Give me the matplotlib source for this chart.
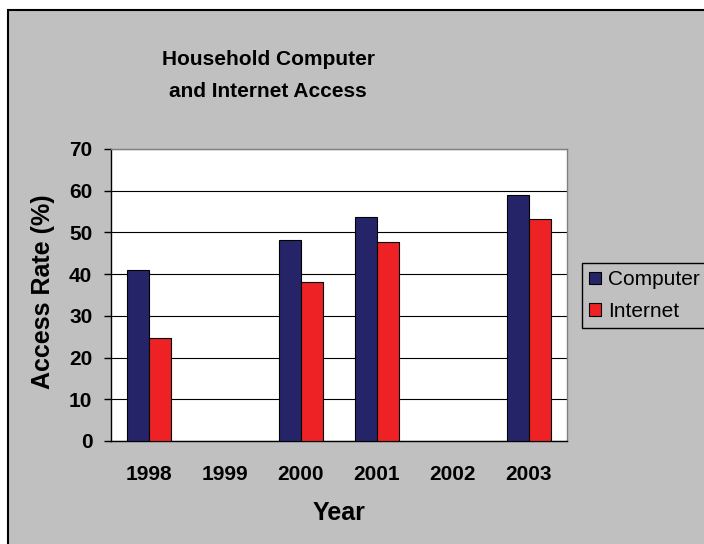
import numpy as np
import matplotlib
matplotlib.use("Agg")
import matplotlib.pyplot as plt
from matplotlib.patches import Rectangle, Patch

years = ["1998", "1999", "2000", "2001", "2002", "2003"]
computer = [41.1, np.nan, 48.2, 53.8, np.nan, 59.0]
internet = [24.6, np.nan, 38.2, 47.8, np.nan, 53.2]
series_names = ["Computer", "Internet"]
yticks = [0, 10, 20, 30, 40, 50, 60, 70]

W, H = 704, 544
plt.rcParams["font.family"] = ["Liberation Sans", "DejaVu Sans"]

fig = plt.figure(figsize=(W / 100, H / 100), dpi=100, facecolor="white")

def fx(px):
    return px / W

def fy(py):
    return 1 - py / H

# grey chart area with black outline, kept behind the axes
fig.patches.append(Rectangle((fx(8), fy(H + 10)), fx(W + 10), fy(10) - fy(H + 10),
                             transform=fig.transFigure, facecolor="#C0C0C0",
                             edgecolor="black", linewidth=1.5, zorder=-10))

ax = fig.add_axes([fx(111), fy(441), fx(567) - fx(111), fy(149) - fy(441)])
ax.set_zorder(1)
ax.set_facecolor("white")

x = np.arange(len(years))
bw = 0.2857
ax.bar(x - bw / 2, computer, bw, color="#262469", edgecolor="black", linewidth=0.8,
       zorder=3, label=series_names[0])
ax.bar(x + bw / 2, internet, bw, color="#EE2124", edgecolor="black", linewidth=0.8,
       zorder=3, label=series_names[1])

ax.set_xlim(-0.5, len(years) - 0.5)
ax.set_ylim(0, 70)
ax.set_yticks(yticks)
ax.set_xticks(x)
ax.set_xticklabels(years)
ax.yaxis.grid(True, color="black", linewidth=0.8, zorder=1)
ax.set_axisbelow(True)

for s in ["top", "right"]:
    ax.spines[s].set_color("#808080")
    ax.spines[s].set_linewidth(1.0)
for s in ["left", "bottom"]:
    ax.spines[s].set_color("black")
    ax.spines[s].set_linewidth(1.0)

ax.tick_params(axis="y", length=5, width=1, pad=8.5, labelsize=15)
ax.tick_params(axis="x", length=0, pad=17, labelsize=15)
for lab in ax.get_xticklabels() + ax.get_yticklabels():
    lab.set_fontweight("bold")

ax.set_xlabel("Year", fontsize=18, fontweight="bold")
ax.xaxis.label.set_va("center")
ax.xaxis.set_label_coords(0.5, (441 - 513) / 292)
ax.set_ylabel("Access Rate (%)", fontsize=18, fontweight="bold")
ax.yaxis.label.set_va("center")
ax.yaxis.set_label_coords((43 - 111) / 456, (441 - 292) / 292)

fig.text(fx(268), fy(65), "Household Computer", ha="center", va="baseline",
         fontsize=15, fontweight="bold")
fig.text(fx(268), fy(97), "and Internet Access", ha="center", va="baseline",
         fontsize=15, fontweight="bold")

# legend box runs past the right edge of the chart area
handles = [Patch(facecolor="#262469", edgecolor="black", linewidth=0.8),
           Patch(facecolor="#EE2124", edgecolor="black", linewidth=0.8)]
leg = ax.legend(handles, series_names, loc="upper left", mode="expand",
                bbox_to_anchor=(fx(582), fy(326), fx(130), fy(263) - fy(326)),
                bbox_transform=fig.transFigure,
                borderaxespad=0, borderpad=0.35, fontsize=15, handlelength=0.55,
                handleheight=0.55, handletextpad=0.35, labelspacing=0.6,
                fancybox=False, frameon=True, facecolor="#C0C0C0",
                edgecolor="black", framealpha=1)
leg.get_frame().set_linewidth(1.0)

fig.savefig("out.png", dpi=100, facecolor=fig.get_facecolor())
